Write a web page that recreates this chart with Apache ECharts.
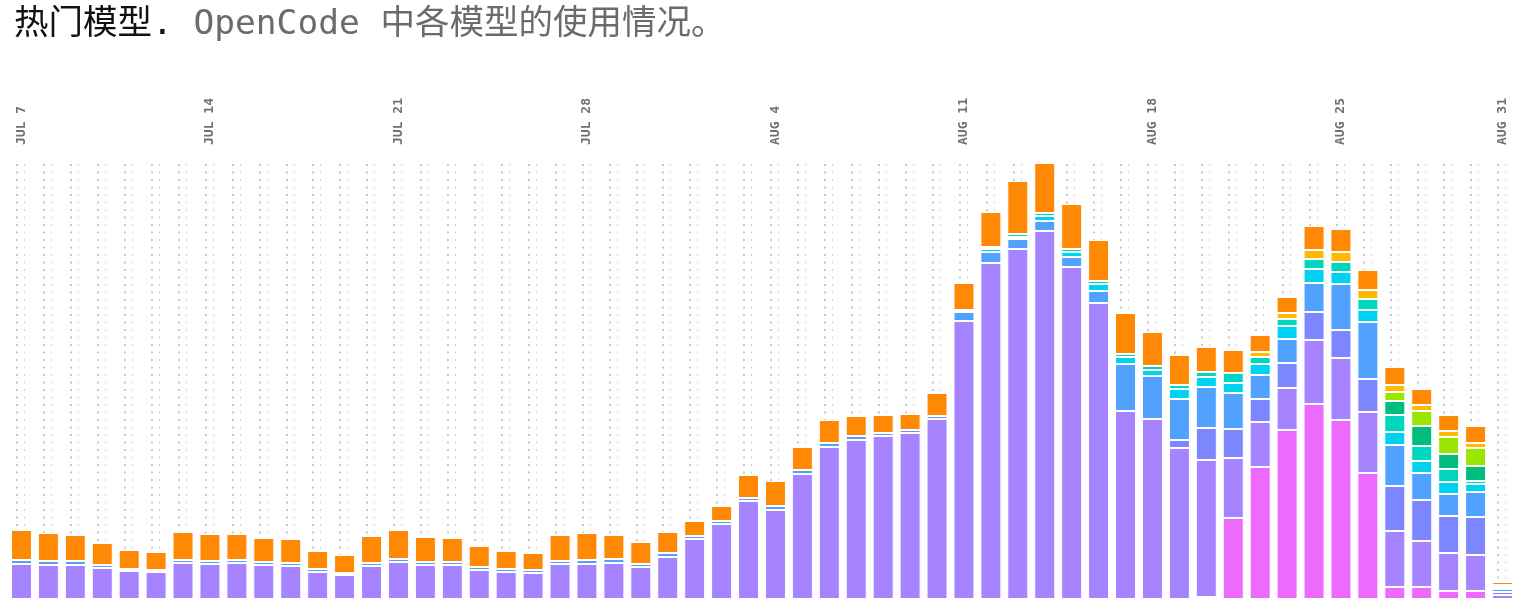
<!DOCTYPE html>
<html>
<head>
<meta charset="utf-8">
<title>热门模型</title>
<script src="https://cdn.jsdelivr.net/npm/echarts@6.0.0/dist/echarts.min.js"></script>
<style>
  html, body { margin: 0; padding: 0; background: #fff; }
  #chart { width: 1536px; height: 610px; }
</style>
</head>
<body>
<div id="chart"></div>
<script>
// days, Jul 7 .. Aug 31
var days = [
  'JUL 7', 'JUL 8', 'JUL 9', 'JUL 10', 'JUL 11', 'JUL 12', 'JUL 13',
  'JUL 14', 'JUL 15', 'JUL 16', 'JUL 17', 'JUL 18', 'JUL 19', 'JUL 20',
  'JUL 21', 'JUL 22', 'JUL 23', 'JUL 24', 'JUL 25', 'JUL 26', 'JUL 27',
  'JUL 28', 'JUL 29', 'JUL 30', 'JUL 31', 'AUG 1', 'AUG 2', 'AUG 3',
  'AUG 4', 'AUG 5', 'AUG 6', 'AUG 7', 'AUG 8', 'AUG 9', 'AUG 10',
  'AUG 11', 'AUG 12', 'AUG 13', 'AUG 14', 'AUG 15', 'AUG 16', 'AUG 17',
  'AUG 18', 'AUG 19', 'AUG 20', 'AUG 21', 'AUG 22', 'AUG 23', 'AUG 24',
  'AUG 25', 'AUG 26', 'AUG 27', 'AUG 28', 'AUG 29', 'AUG 30', 'AUG 31'
];

// labels shown on the top axis
var tickLabels = ['JUL 7', 'JUL 14', 'JUL 21', 'JUL 28', 'AUG 4', 'AUG 11', 'AUG 18', 'AUG 25', 'AUG 31'];

// stacked from bottom to top
var modelFuchsia = [0,0,0,0,0,0,0,0,0,0,0,0,0,0,0,0,0,0,0,0,0,0,0,0,0,0,0,0,0,0,0,0,0,0,0,0,0,0,0,0,0,0,0,0,2,81,132,169,195,179,126,12,12,8,8,0];
var modelViolet  = [35,34,34,31,28,27,36,35,36,34,33,27,24,33,37,34,34,29,27,26,35,35,36,32,42,60,75,98,89,125,152,159,163,166,180,278,336,350,368,332,296,188,180,151,137,60,45,42,64,62,61,56,46,38,36,4];
var modelIndigo  = [0,0,0,0,0,0,0,0,0,0,0,0,0,0,0,0,0,0,0,0,0,0,0,0,0,0,0,0,0,0,0,0,0,0,0,0,0,0,0,0,0,0,0,8,32,29,23,25,28,28,33,45,41,37,38,3];
var modelBlue    = [4,4,4,3,2,2,3,3,3,3,3,3,2,3,3,3,3,3,3,3,3,4,4,3,4,3,3,3,4,4,4,4,3,3,3,9,11,10,10,10,12,47,43,41,41,36,24,24,29,46,57,41,27,22,25,3];
var modelCyan    = [0,0,0,0,0,0,0,0,0,0,0,0,0,0,0,0,0,0,0,0,0,0,0,0,0,0,0,0,0,0,0,0,0,0,0,2,3,2,5,5,7,7,6,10,10,10,11,13,14,12,12,13,12,12,8,2];
var modelTeal    = [0,0,0,0,0,0,0,0,0,0,0,0,0,0,0,0,0,0,0,0,0,0,0,0,0,0,0,0,0,0,0,0,0,0,0,0,2,3,3,3,3,3,4,4,5,10,7,7,10,10,11,17,15,13,3,1];
var modelEmerald = [0,0,0,0,0,0,0,0,0,0,0,0,0,0,0,0,0,0,0,0,0,0,0,0,0,0,0,0,0,0,0,0,0,0,0,0,0,0,0,0,0,0,0,0,0,0,0,0,0,0,0,14,20,15,15,1];
var modelLime    = [0,0,0,0,0,0,0,0,0,0,0,0,0,0,0,0,0,0,0,0,0,0,0,0,0,0,0,0,0,0,0,0,0,0,0,0,0,0,0,0,0,0,0,0,0,0,0,0,0,0,0,9,15,17,18,0];
var modelAmber   = [0,0,0,0,0,0,0,0,0,0,0,0,0,0,0,0,0,0,0,0,0,0,0,0,0,0,0,0,0,0,0,0,0,0,0,0,0,0,0,0,0,0,0,0,0,0,5,6,9,10,9,7,6,6,5,0];
var modelOrange  = [30,28,26,22,19,18,28,27,26,24,24,18,18,27,29,25,24,21,18,17,26,27,24,22,21,15,15,23,25,23,23,20,18,16,23,27,35,53,50,45,41,41,34,30,25,23,17,16,24,23,20,18,16,16,17,3];

var stackOrder = [
  ['model-f', '#ed6aff', modelFuchsia],
  ['model-v', '#a684ff', modelViolet],
  ['model-i', '#7c86ff', modelIndigo],
  ['model-b', '#51a2ff', modelBlue],
  ['model-c', '#00d3f2', modelCyan],
  ['model-t', '#00d5be', modelTeal],
  ['model-e', '#00bc7d', modelEmerald],
  ['model-l', '#9ae600', modelLime],
  ['model-a', '#ffb900', modelAmber],
  ['model-o', '#ff8904', modelOrange]
];

var W = 1536, gridLeft = 8, gridRight = 20, gridTop = 160, gridBottom = 11;
var catW = (W - gridLeft - gridRight) / days.length;
var mono = "'DejaVu Sans Mono', 'Noto Sans CJK SC', monospace";

var series = stackOrder.map(function (s) {
  return {
    name: s[0],
    type: 'bar',
    stack: 'usage',
    barWidth: 21,
    xAxisIndex: 0,
    yAxisIndex: 0,
    data: s[2].map(function (v) { return v > 0 ? v : null; }),
    itemStyle: { color: s[1], borderColor: '#fff', borderWidth: 1 },
    emphasis: { disabled: true },
    z: 5
  };
});

var myChart = echarts.init(document.getElementById('chart'), null, { renderer: 'canvas' });
var option = {
  animation: false,
  backgroundColor: '#fff',
  title: {
    text: '{a|热门模型.}{b| OpenCode 中各模型的使用情况。}',
    left: 9,
    top: 3,
    textStyle: {
      fontWeight: 'normal',
      rich: {
        a: { fontFamily: mono, fontSize: 34.5, fontWeight: 'normal', color: '#111111' },
        b: { fontFamily: mono, fontSize: 34.5, fontWeight: 'normal', color: '#6b6b6b' }
      }
    }
  },
  grid: [
    { left: gridLeft, right: gridRight, top: gridTop, bottom: gridBottom },
    { left: gridLeft + catW / 2 - 4.5, width: catW * (days.length - 1), top: 164, bottom: gridBottom },
    { left: gridLeft + catW / 2 + 3, width: catW * (days.length - 1), top: 164, bottom: gridBottom }
  ],
  xAxis: [
    {
      type: 'category',
      gridIndex: 0,
      position: 'top',
      data: days,
      axisLine: { show: false },
      axisTick: { show: false },
      splitLine: { show: false },
      axisLabel: {
        rotate: 90,
        margin: 15,
        fontFamily: mono,
        fontSize: 13,
        fontWeight: 'bold',
        color: '#6e7176',
        interval: function (index, value) {
          return tickLabels.indexOf(value) >= 0;
        }
      }
    },
    {
      type: 'value', gridIndex: 1, min: 0, max: days.length - 1, interval: 1,
      axisLine: { show: false }, axisTick: { show: false }, axisLabel: { show: false },
      splitLine: { show: true, lineStyle: { color: '#c8c8c8', width: 2, type: [2, 5.5] } }
    },
    {
      type: 'value', gridIndex: 2, min: 0, max: days.length - 1, interval: 1,
      axisLine: { show: false }, axisTick: { show: false }, axisLabel: { show: false },
      splitLine: { show: true, lineStyle: { color: '#d2d2d2', width: 1, type: [2, 5.5] } }
    }
  ],
  yAxis: [
    { type: 'value', gridIndex: 0, min: 0, max: 439, show: false },
    { type: 'value', gridIndex: 1, min: 0, max: 1, show: false },
    { type: 'value', gridIndex: 2, min: 0, max: 1, show: false }
  ],
  series: series
};

myChart.setOption(option);
</script>
</body>
</html>
